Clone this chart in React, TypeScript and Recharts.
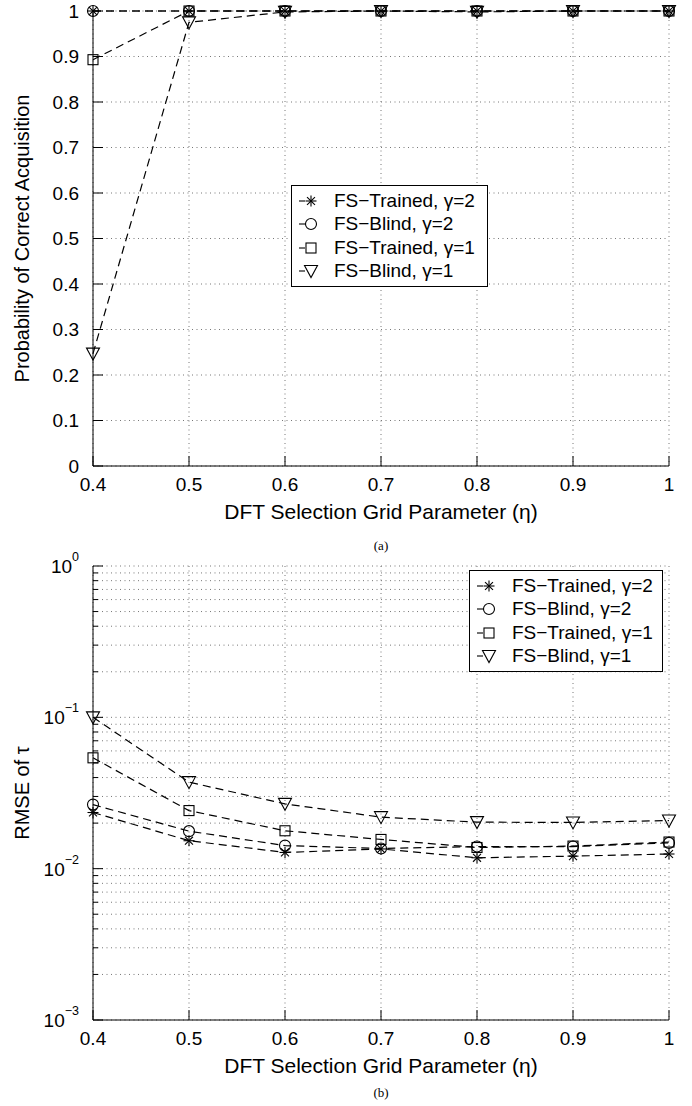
import React from 'react'
import { LineChart, Line, XAxis, YAxis, CartesianGrid, Legend } from 'recharts'

const ETA = [0.4, 0.5, 0.6, 0.7, 0.8, 0.9, 1]
const SERIES_NAMES = ['FS\u2212Trained, \u03b3=2', 'FS\u2212Blind, \u03b3=2', 'FS\u2212Trained, \u03b3=1', 'FS\u2212Blind, \u03b3=1']
const SERIES_KEYS = ['t2', 'b2', 't1', 'b1']
const MARKERS = ['star', 'circle', 'square', 'tri']

// (a) probability of correct acquisition
const PCA_TRAINED_G2 = [1, 1, 1, 1, 1, 1, 1]
const PCA_BLIND_G2 = [1, 1, 1, 1, 1, 1, 1]
const PCA_TRAINED_G1 = [0.893, 1, 1, 1, 1, 1, 1]
const PCA_BLIND_G1 = [0.247, 0.975, 0.998, 1, 0.998, 1, 1]

// (b) RMSE of tau
const RMSE_TRAINED_G2 = [0.0235, 0.0153, 0.0128, 0.0135, 0.0118, 0.0121, 0.0125]
const RMSE_BLIND_G2 = [0.0265, 0.0177, 0.0142, 0.0136, 0.014, 0.014, 0.0148]
const RMSE_TRAINED_G1 = [0.054, 0.0242, 0.0178, 0.0156, 0.0138, 0.0141, 0.015]
const RMSE_BLIND_G1 = [0.1, 0.0373, 0.0268, 0.0219, 0.0203, 0.0202, 0.0208]

const X_TICKS = [0.4, 0.5, 0.6, 0.7, 0.8, 0.9, 1]
const PCA_TICKS = [0, 0.1, 0.2, 0.3, 0.4, 0.5, 0.6, 0.7, 0.8, 0.9, 1]
const DECADES = [0.001, 0.01, 0.1]
const MANTISSAS = [1, 2, 3, 4, 5, 6, 7, 8, 9]
const RMSE_TICKS = [...DECADES.flatMap((d) => MANTISSAS.map((m) => Number((m * d).toPrecision(3)))), 1]

const pcaData = ETA.map((eta, i) => ({
  eta,
  t2: PCA_TRAINED_G2[i],
  b2: PCA_BLIND_G2[i],
  t1: PCA_TRAINED_G1[i],
  b1: PCA_BLIND_G1[i],
}))

const rmseData = ETA.map((eta, i) => ({
  eta,
  t2: RMSE_TRAINED_G2[i],
  b2: RMSE_BLIND_G2[i],
  t1: RMSE_TRAINED_G1[i],
  b1: RMSE_BLIND_G1[i],
}))

const FONT = '"Liberation Sans", Arial, Helvetica, sans-serif'
const W = 692

function Marker({ kind, cx, cy }: { kind: string; cx: number; cy: number }) {
  const st = { fill: 'none', stroke: '#000', strokeWidth: 1.1 }
  if (kind === 'star') {
    const r = 5.5
    const d = r * 0.72
    return (
      <g {...st}>
        <line x1={cx - r} y1={cy} x2={cx + r} y2={cy} />
        <line x1={cx} y1={cy - r} x2={cx} y2={cy + r} />
        <line x1={cx - d} y1={cy - d} x2={cx + d} y2={cy + d} />
        <line x1={cx - d} y1={cy + d} x2={cx + d} y2={cy - d} />
      </g>
    )
  }
  if (kind === 'circle') return <circle cx={cx} cy={cy} r={5.5} {...st} />
  if (kind === 'square') return <rect x={cx - 5} y={cy - 5} width={10} height={10} {...st} />
  return <polygon points={`${cx - 6.5},${cy - 5.5} ${cx + 6.5},${cy - 5.5} ${cx},${cy + 6.5}`} {...st} />
}

const isDecade = (v: number) => Math.abs(Math.log10(v) - Math.round(Math.log10(v))) < 1e-6

// inward tick mark + outside label, drawn from the axis-line point
function AxisTick(props: any) {
  const { x, y, payload, side, log, labels } = props
  const v = payload.value as number
  const major = !log || isDecade(v)
  const len = major ? 10 : 5
  let mark = null
  if (side === 'left') mark = <line x1={x} y1={y} x2={x + len} y2={y} stroke="#000" />
  if (side === 'right') mark = <line x1={x} y1={y} x2={x - len} y2={y} stroke="#000" />
  if (side === 'bottom') mark = <line x1={x} y1={y} x2={x} y2={y - len} stroke="#000" />
  if (side === 'top') mark = <line x1={x} y1={y} x2={x} y2={y + len} stroke="#000" />
  let text = null
  if (labels && side === 'left') {
    if (log) {
      if (major) {
        const e = Math.round(Math.log10(v))
        text = (
          <text x={x - 14} y={y} textAnchor="end" dominantBaseline="central" fontSize={19} fill="#000" fontFamily={FONT}>
            <tspan>10</tspan>
            <tspan dy={-9} fontSize={12.5}>{e === 0 ? '0' : '\u2212' + Math.abs(e)}</tspan>
          </text>
        )
      }
    } else {
      text = (
        <text x={x - 14} y={y} textAnchor="end" dominantBaseline="central" fontSize={19} fill="#000" fontFamily={FONT}>
          {String(Number(v.toFixed(1)))}
        </text>
      )
    }
  }
  if (labels && side === 'bottom') {
    text = (
      <text x={x} y={y + 18} textAnchor="middle" dominantBaseline="central" fontSize={19} fill="#000" fontFamily={FONT}>
        {String(Number(v.toFixed(1)))}
      </text>
    )
  }
  return (
    <g>
      {mark}
      {text}
    </g>
  )
}

function XTitle(props: any) {
  const vb = props.viewBox || { x: 93, y: 466, width: 576 }
  return (
    <text x={vb.x + vb.width / 2} y={vb.y + 45} textAnchor="middle" dominantBaseline="central" fontSize={21} fill="#000" fontFamily={FONT}>
      DFT Selection Grid Parameter ({'\u03b7'})
    </text>
  )
}

function YTitle(props: any) {
  const vb = props.viewBox || { x: 12, y: 11, height: 455 }
  const cx = vb.x + 10
  const cy = vb.y + vb.height / 2
  return (
    <text x={cx} y={cy} transform={`rotate(-90 ${cx} ${cy})`} textAnchor="middle" dominantBaseline="central" fontSize={20} fill="#000" fontFamily={FONT}>
      {props.text}
    </text>
  )
}

function LegendBox({ payload }: any) {
  const items = [...(payload || [])].sort((a: any, b: any) => SERIES_KEYS.indexOf(a.dataKey) - SERIES_KEYS.indexOf(b.dataKey))
  return (
    <div style={{ background: '#fff', border: '1px solid #000', padding: '3px 0', fontFamily: FONT, fontSize: 19, color: '#000' }}>
      {items.map((e: any, i: number) => {
        const kind = MARKERS[SERIES_KEYS.indexOf(e.dataKey)]
        return (
          <div key={i} style={{ display: 'flex', alignItems: 'center', height: 23.5 }}>
            <svg width={38} height={20} style={{ flex: 'none' }}>
              <line x1={7} x2={13} y1={10} y2={10} stroke="#000" strokeWidth={1.1} />
              <Marker kind={kind} cx={19} cy={10} />
            </svg>
            <span style={{ marginLeft: 4, whiteSpace: 'nowrap' }}>{e.value}</span>
          </div>
        )
      })}
    </div>
  )
}

function Series() {
  return SERIES_KEYS.map((k, i) => (
    <Line
      key={k}
      type="linear"
      dataKey={k}
      name={SERIES_NAMES[i]}
      stroke="#000"
      strokeWidth={1.2}
      strokeDasharray="8 5"
      isAnimationActive={false}
      dot={(p: any) => <Marker key={`${k}-${p.index}`} kind={MARKERS[i]} cx={p.cx} cy={p.cy} />}
      activeDot={false}
    />
  ))
}

export default function App() {
  const axisCommon = { tickSize: 0, tickMargin: 0, tickLine: false, interval: 0 as const, axisLine: { stroke: '#000', strokeWidth: 1 } }
  return (
    <div style={{ position: 'absolute', left: 0, top: 0, width: W, height: 1106, background: '#fff', fontFamily: FONT }}>
      <div style={{ position: 'absolute', left: 0, top: 0 }}>
        <LineChart width={W} height={540} data={pcaData} margin={{ top: 11, right: 23, bottom: 4, left: 12 }}>
          <CartesianGrid stroke="#777" strokeDasharray="1 3.5" strokeWidth={1} />
          <XAxis dataKey="eta" type="number" domain={[0.4, 1]} ticks={X_TICKS} height={70} {...axisCommon}
            tick={<AxisTick side="bottom" labels />} label={(p: any) => <XTitle {...p} />} />
          <XAxis xAxisId="top" orientation="top" dataKey="eta" type="number" domain={[0.4, 1]} ticks={X_TICKS} height={0} {...axisCommon}
            tick={<AxisTick side="top" />} />
          <YAxis type="number" domain={[0, 1]} ticks={PCA_TICKS} width={81} {...axisCommon}
            tick={<AxisTick side="left" labels />} label={(p: any) => <YTitle {...p} text="Probability of Correct Acquisition" />} />
          <YAxis yAxisId="right" orientation="right" type="number" domain={[0, 1]} ticks={PCA_TICKS} width={0} {...axisCommon}
            tick={<AxisTick side="right" />} />
          {Series()}
          <Legend layout="vertical" align="center" verticalAlign="middle" content={<LegendBox />}
            wrapperStyle={{ left: 291, top: 185, width: 197 }} />
        </LineChart>
      </div>
      <div style={{ position: 'absolute', left: 0, top: 538, width: 762, textAlign: 'center', fontFamily: '"Liberation Serif", "Times New Roman", serif', fontSize: 13 }}>
        (a)
      </div>
      <div style={{ position: 'absolute', left: 0, top: 543 }}>
        <LineChart width={W} height={563} data={rmseData} margin={{ top: 23, right: 23, bottom: 16, left: 12 }}>
          <CartesianGrid stroke="#777" strokeDasharray="1 3.5" strokeWidth={1} />
          <XAxis dataKey="eta" type="number" domain={[0.4, 1]} ticks={X_TICKS} height={70} {...axisCommon}
            tick={<AxisTick side="bottom" labels />} label={(p: any) => <XTitle {...p} />} />
          <XAxis xAxisId="top" orientation="top" dataKey="eta" type="number" domain={[0.4, 1]} ticks={X_TICKS} height={0} {...axisCommon}
            tick={<AxisTick side="top" />} />
          <YAxis type="number" scale="log" domain={[0.001, 1]} allowDataOverflow ticks={RMSE_TICKS} width={81} {...axisCommon}
            tick={<AxisTick side="left" log labels />} label={(p: any) => <YTitle {...p} text={'RMSE of \u03c4'} />} />
          <YAxis yAxisId="right" orientation="right" type="number" scale="log" domain={[0.001, 1]} allowDataOverflow ticks={RMSE_TICKS} width={0} {...axisCommon}
            tick={<AxisTick side="right" log />} />
          {Series()}
          <Legend layout="vertical" align="center" verticalAlign="middle" content={<LegendBox />}
            wrapperStyle={{ left: 469, top: 27, width: 194 }} />
        </LineChart>
      </div>
      <div style={{ position: 'absolute', left: 0, top: 1085, width: 762, textAlign: 'center', fontFamily: '"Liberation Serif", "Times New Roman", serif', fontSize: 13 }}>
        (b)
      </div>
    </div>
  )
}
